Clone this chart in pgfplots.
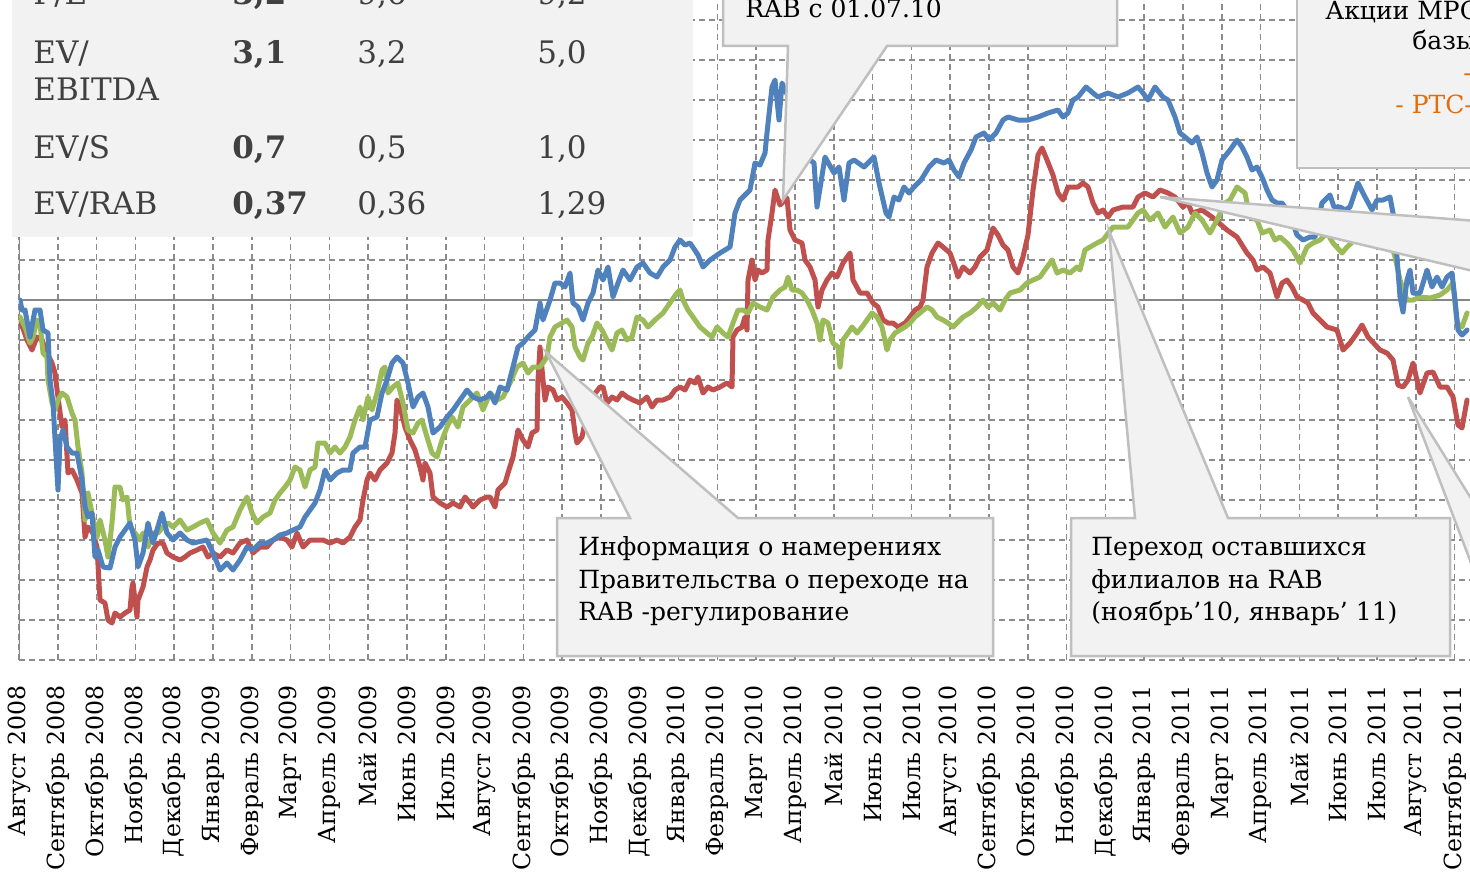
\documentclass[border=0pt]{standalone}
\usepackage{fontspec}
\setmainfont{DejaVu Serif}
\usepackage{pgfplots}
\pgfplotsset{compat=1.18}

\definecolor{sblue}{HTML}{4F81BD}
\definecolor{sred}{HTML}{C0504D}
\definecolor{sgreen}{HTML}{9BBB59}
\definecolor{gridgray}{HTML}{8C8C8C}
\definecolor{axisgray}{HTML}{868686}
\definecolor{boxfill}{HTML}{F2F2F2}
\definecolor{boxline}{HTML}{BFBFBF}
\definecolor{tabtext}{HTML}{404040}
\definecolor{rtsorange}{HTML}{E46C0A}

\tikzset{
  callout/.style={fill=boxfill, draw=boxline, line width=1.25pt},
  series/.style={mark=none, line width=2.5pt, line join=round, line cap=round},
}

\begin{document}
\begin{tikzpicture}
\begin{scope}
\clip (0pt,0pt) rectangle (735pt,-436pt);
\begin{axis}[
  at={(9.5pt,-330pt)}, anchor=south west,
  scale only axis, width=725.5pt, height=330pt,
  xmin=0, xmax=37.397, ymin=10, ymax=175,
  axis line style={draw=none}, tick style={draw=none},
  xtick={0,...,37},
  xticklabels={Август 2008,Сентябрь 2008,Октябрь 2008,Ноябрь 2008,Декабрь 2008,
    Январь 2009,Февраль 2009,Март 2009,Апрель 2009,Май 2009,Июнь 2009,Июль 2009,
    Август 2009,Сентябрь 2009,Октябрь 2009,Ноябрь 2009,Декабрь 2009,
    Январь 2010,Февраль 2010,Март 2010,Апрель 2010,Май 2010,Июнь 2010,Июль 2010,
    Август 2010,Сентябрь 2010,Октябрь 2010,Ноябрь 2010,Декабрь 2010,
    Январь 2011,Февраль 2011,Март 2011,Апрель 2011,Май 2011,Июнь 2011,Июль 2011,
    Август 2011,Сентябрь 2011},
  xticklabel style={rotate=90, anchor=east, inner sep=0pt,
    font=\fontsize{11.8}{14}\selectfont},
  xticklabel shift=12.5pt,
  ytick={10,20,...,170}, yticklabels={},
  grid=major,
  major grid style={draw=gridgray, line width=0.75pt, dash pattern=on 3pt off 2pt},
]
\draw[axisgray, line width=1pt] (axis cs:0,100) -- (axis cs:37.397,100);
\draw[axisgray, line width=1pt] (axis cs:0,10) -- (axis cs:0,175);

% red series
\addplot[series, sred] coordinates {
(0.026,95)(0.206,90)(0.335,87.5)(0.464,90.75)(0.593,90)(0.722,86.75)(0.851,84.25)(0.928,81.75)(1.005,75.75)(1.108,68.25)(1.186,70)(1.263,56.75)(1.366,57.5)(1.495,55)(1.624,51.75)(1.701,40.75)(1.778,43.25)(1.907,41.75)(2.010,38.25)(2.088,25)(2.216,24.25)(2.294,20)(2.397,19.25)(2.474,21.75)(2.603,20.75)(2.732,21.75)(2.861,22.5)(2.912,28.25)(2.938,29.25)(3.041,20.75)(3.067,25)(3.196,28.25)(3.299,33.25)(3.376,35)(3.454,37.5)(3.582,39.25)(3.711,39.25)(3.814,36.75)(3.969,35.75)(4.149,35)(4.278,35.75)(4.407,36.75)(4.588,37.5)(4.742,38.25)(4.871,35.75)(5.000,36.75)(5.180,35.75)(5.361,37.5)(5.515,36.75)(5.696,39.25)(5.876,40)(6.031,36.75)(6.211,38.25)(6.392,38.25)(6.546,40)(6.727,40.75)(6.907,40)(7.036,38.25)(7.165,41.75)(7.320,38.25)(7.500,40)(7.680,40)(7.835,40)(8.015,39.25)(8.196,40)(8.351,39.25)(8.531,40.75)(8.660,43.25)(8.789,45)(8.866,50)(8.969,55)(9.046,56.75)(9.175,55)(9.304,57.5)(9.485,59.25)(9.613,61.75)(9.691,66.75)(9.742,75)(9.820,73.25)(9.948,68.25)(10.077,65)(10.206,62.5)(10.335,58.25)(10.412,55)(10.464,59.25)(10.593,56.75)(10.670,50.75)(10.851,49.25)(11.031,48.25)(11.186,49.25)(11.366,48.25)(11.495,50.75)(11.624,49.25)(11.701,48.25)(11.881,50)(12.062,50.75)(12.139,50.75)(12.268,48.25)(12.345,52.5)(12.526,54.25)(12.603,56.75)(12.732,60.75)(12.861,67.5)(12.990,65)(13.119,63.25)(13.222,66.75)(13.351,67.5)(13.376,80)(13.428,88.25)(13.505,80)(13.557,75)(13.634,78.25)(13.763,77.5)(13.866,75)(13.995,75.75)(14.124,74.25)(14.253,72.5)(14.330,66.75)(14.381,64.25)(14.510,65.75)(14.716,75)(14.974,78.25)(15.052,78.25)(15.155,74.25)(15.284,75.75)(15.412,75)(15.541,76.75)(15.670,75.75)(15.825,75)(16.005,74.25)(16.186,75.75)(16.314,73.25)(16.443,75)(16.598,75)(16.778,75.75)(16.907,77.5)(17.036,78.25)(17.165,77.5)(17.294,80)(17.423,79.25)(17.500,80.75)(17.629,76.75)(17.758,78.25)(17.887,77.5)(18.067,78.25)(18.247,79.25)(18.376,78.25)(18.402,90.75)(18.505,92.5)(18.634,93.25)(18.711,95.75)(18.763,92.5)(18.789,105)(18.892,110)(18.969,105)(19.046,107.5)(19.149,106.75)(19.278,107.5)(19.304,115)(19.407,121.75)(19.485,127.5)(19.613,123.75)(19.794,125.5)(19.871,117.5)(20.000,115)(20.180,114.25)(20.258,110)(20.387,108.25)(20.515,105)(20.593,98.25)(20.696,102.5)(20.825,105)(20.954,106.75)(21.082,105.75)(21.237,109.25)(21.418,111.75)(21.495,105)(21.675,101.75)(21.856,101.75)(22.010,99.25)(22.139,98.25)(22.268,95)(22.397,94.25)(22.526,94.25)(22.655,93.25)(22.835,94.25)(22.964,95.75)(23.093,97.5)(23.222,98.25)(23.299,100)(23.402,108.25)(23.531,111.75)(23.686,114.25)(23.814,113.25)(23.995,111.75)(24.124,108.25)(24.201,105.75)(24.330,108.25)(24.510,106.75)(24.639,108.25)(24.768,110.75)(24.948,112.5)(25.103,118)(25.232,116.25)(25.361,113.75)(25.490,112.5)(25.619,108.25)(25.747,106.75)(25.876,110.75)(26.005,116.25)(26.134,127.5)(26.263,136.25)(26.366,138)(26.495,135)(26.649,131.25)(26.778,126.75)(26.907,125)(27.036,128.25)(27.294,128.25)(27.423,129.25)(27.552,128.25)(27.680,124.25)(27.809,121.75)(27.938,122.5)(28.067,120.75)(28.196,122.5)(28.454,123.25)(28.711,123.25)(28.840,125.75)(29.021,126.75)(29.227,125.75)(29.407,127.5)(29.613,126.75)(29.794,125.75)(30.000,123.25)(30.129,124.25)(30.232,121.75)(30.490,122.5)(30.747,120.75)(31.134,117.5)(31.392,115.75)(31.649,111.75)(31.804,110)(31.907,107.5)(32.062,108.25)(32.242,106.75)(32.423,100.75)(32.552,104.25)(32.680,105)(32.809,103.25)(32.938,100.75)(33.093,100)(33.222,99.25)(33.351,96.75)(33.531,95)(33.711,93.25)(33.969,92.5)(34.124,87.5)(34.304,89.25)(34.485,91.75)(34.613,93.75)(34.768,90.75)(35.077,87.5)(35.258,86.75)(35.412,85)(35.541,78.75)(35.670,78.25)(35.799,80)(35.928,84.25)(36.108,76.75)(36.289,81.75)(36.443,82)(36.624,78.25)(36.804,78.25)(36.959,75.75)(37.088,68.75)(37.191,68)(37.320,75)
};

% green series
\addplot[series, sgreen] coordinates {
(0.026,95.75)(0.155,93.25)(0.284,89.25)(0.361,90.75)(0.464,95)(0.541,94.25)(0.619,86.75)(0.722,85.75)(0.747,80)(0.851,74.25)(0.928,72.5)(1.005,75)(1.108,76.75)(1.237,75.75)(1.366,71.75)(1.443,70)(1.521,63.25)(1.624,56.75)(1.701,45)(1.778,51.75)(1.881,46.75)(2.010,40.75)(2.088,45)(2.216,40)(2.294,35.75)(2.397,44.25)(2.474,53.25)(2.603,53.25)(2.680,50)(2.784,50.75)(2.861,43.25)(2.990,41.75)(3.119,40)(3.196,41.75)(3.325,38.25)(3.454,41.75)(3.582,41.75)(3.711,43.25)(3.840,44.25)(3.969,43.25)(4.149,45)(4.330,42.5)(4.485,43.25)(4.665,44.25)(4.845,45)(5.000,41.75)(5.180,39.25)(5.361,42.5)(5.515,43.25)(5.696,47.5)(5.876,50.75)(6.005,46.75)(6.134,44.25)(6.289,45.75)(6.469,46.75)(6.598,50)(6.727,51.75)(6.856,53.25)(6.985,55)(7.113,58.25)(7.242,57.5)(7.371,53.25)(7.500,57.5)(7.629,58.25)(7.706,64.25)(7.887,64.25)(8.015,61.75)(8.144,63.25)(8.273,61.75)(8.402,63.25)(8.531,65.75)(8.660,70)(8.789,73.25)(8.866,70)(8.995,75.75)(9.098,72.5)(9.227,76.75)(9.356,82.5)(9.433,83.25)(9.510,76.75)(9.639,78.25)(9.768,79.25)(9.897,74.25)(10.026,67.5)(10.155,66.75)(10.284,69.25)(10.387,70)(10.515,65.75)(10.644,61.75)(10.773,60.75)(10.902,65)(11.031,68.25)(11.160,70.75)(11.314,68.25)(11.443,73.25)(11.624,75)(11.804,76.75)(11.959,72.5)(12.139,76.75)(12.320,75)(12.474,75.75)(12.655,79.25)(12.835,83.25)(12.990,84.25)(13.119,81.75)(13.247,83.25)(13.428,83.25)(13.608,85.75)(13.686,90.75)(13.814,93.25)(13.995,94.25)(14.124,95)(14.253,93.25)(14.330,88.25)(14.459,85.75)(14.536,85)(14.665,89.25)(14.768,90.75)(14.897,94.25)(15.026,92.5)(15.155,90)(15.284,87.5)(15.412,91.75)(15.541,92.5)(15.670,90)(15.799,90.75)(15.928,95.75)(16.082,95)(16.211,93.25)(16.392,95)(16.598,96.75)(16.830,100)(16.959,101.75)(17.036,102.5)(17.113,100)(17.242,97.5)(17.371,95.75)(17.552,93.25)(17.732,91.75)(17.861,90.75)(17.990,93.25)(18.144,91.75)(18.273,90.75)(18.402,94.25)(18.531,97.5)(18.660,97.5)(18.789,96.75)(18.918,99.25)(19.098,98.25)(19.278,97.5)(19.433,100.75)(19.613,102.5)(19.742,103.25)(19.820,105.75)(19.923,102.5)(20.052,102.5)(20.180,101.75)(20.309,100)(20.438,97.5)(20.567,94.25)(20.644,90)(20.722,95)(20.851,94.25)(20.979,89.25)(21.108,88.25)(21.160,83.25)(21.237,90)(21.366,91.75)(21.469,93.25)(21.598,91.75)(21.727,93.25)(21.856,95)(21.985,96.75)(22.113,95.75)(22.242,93.25)(22.371,87.5)(22.448,90)(22.577,91.75)(22.706,92.5)(22.835,93.25)(22.964,94.25)(23.093,95.75)(23.222,96.75)(23.402,98.25)(23.531,97.5)(23.660,95.75)(23.814,95)(23.943,94.25)(24.072,93.25)(24.330,95.75)(24.510,96.75)(24.691,98.25)(24.845,100)(24.974,98.25)(25.103,99.25)(25.284,97.5)(25.412,100)(25.541,101.75)(25.799,102.5)(25.979,104.25)(26.134,105)(26.314,105.75)(26.495,108.25)(26.624,110)(26.753,106.75)(26.907,107.5)(27.088,106.75)(27.268,108.25)(27.345,107.5)(27.474,112.5)(27.603,113.25)(27.784,114.25)(27.938,115)(28.196,118.25)(28.582,118.25)(28.840,121.75)(28.969,122.5)(29.149,120)(29.356,121.75)(29.536,118.25)(29.742,120.75)(29.923,116.75)(30.129,118.25)(30.309,121.75)(30.490,120)(30.696,116.75)(30.876,120)(31.082,124.25)(31.211,125)(31.392,128.25)(31.598,126.75)(31.727,120.75)(31.907,120)(32.036,116.75)(32.242,117.5)(32.371,115)(32.500,115.75)(32.680,114.25)(32.835,112.5)(33.015,109.25)(33.196,113.25)(33.351,114.25)(33.531,115)(33.711,116.75)(33.866,114.25)(34.098,111.75)(34.227,113.25)(34.562,116.25)(34.948,117)(35.335,115)(35.464,110.75)(35.593,105)(35.773,100)(35.928,100)(36.108,100.75)(36.366,100.5)(36.624,101.25)(36.804,102.5)(36.959,104.25)(37.062,94.25)(37.191,93.25)(37.320,96.75)
};

% blue series
\addplot[series, sblue] coordinates {
(0.026,100)(0.077,97.5)(0.155,97.5)(0.284,90.75)(0.412,97.5)(0.541,97.5)(0.619,92.5)(0.747,91.75)(0.799,80)(0.876,74.25)(0.979,56.75)(1.005,52.5)(1.057,65)(1.134,67.5)(1.237,63.25)(1.366,61.75)(1.495,61.75)(1.624,55)(1.701,48.25)(1.778,45.75)(1.881,46.75)(1.959,35.75)(2.036,37.5)(2.165,33.25)(2.345,33)(2.474,38.25)(2.603,40.75)(2.732,42.5)(2.861,44.25)(2.990,40)(3.067,33.25)(3.196,36.75)(3.325,44.25)(3.454,39.25)(3.686,46.75)(3.814,41.75)(3.969,40)(4.149,41.75)(4.330,40)(4.485,39.25)(4.845,40)(5.000,36.75)(5.180,32.5)(5.361,34.25)(5.515,32.5)(5.696,35)(5.876,38.25)(6.031,37.5)(6.211,39.25)(6.392,39.25)(6.546,40)(6.727,41.25)(6.907,41.75)(7.062,42.5)(7.242,43.25)(7.371,45.75)(7.500,47.5)(7.629,49.25)(7.758,52.5)(7.887,57.5)(8.015,55)(8.196,56.75)(8.351,57.5)(8.531,57.5)(8.608,61.75)(8.789,63.25)(8.918,63.25)(9.046,70)(9.227,70.75)(9.356,76.75)(9.485,80)(9.613,84.25)(9.742,85.75)(9.897,84.25)(10.026,79.25)(10.155,73.25)(10.284,75.75)(10.412,76.75)(10.541,73.25)(10.670,66.75)(10.851,68.25)(11.031,70.75)(11.186,72.5)(11.366,75)(11.546,77.5)(11.701,75.75)(11.881,75)(12.062,75.75)(12.139,76.75)(12.268,74.25)(12.397,78.25)(12.577,77.5)(12.732,83.25)(12.861,88.25)(12.990,89.25)(13.119,90.75)(13.299,92.5)(13.428,99.25)(13.505,95)(13.686,100)(13.814,104.25)(13.943,104.25)(14.072,103.25)(14.201,106.75)(14.278,99.25)(14.407,98.25)(14.536,95)(14.665,99.25)(14.794,101.75)(14.923,107.5)(15.052,105)(15.180,108.25)(15.309,100.75)(15.438,104.25)(15.567,107.5)(15.747,105)(15.928,108.25)(16.082,109.25)(16.263,106.75)(16.443,105.75)(16.598,108.25)(16.778,110)(16.907,113.25)(17.036,115)(17.165,113.75)(17.294,114.25)(17.500,111.25)(17.629,108.25)(17.809,110)(18.067,111.75)(18.325,113.25)(18.454,121.75)(18.582,125)(18.840,127.5)(18.969,134.25)(19.098,133.75)(19.227,136.75)(19.278,141.75)(19.407,153.25)(19.485,155)(19.588,145)(19.665,154.25)(19.742,152.5)(19.871,150)(20.052,142.5)(20.258,137.5)(20.387,135)(20.490,134.25)(20.567,123.25)(20.773,135.75)(21.005,131.75)(21.134,133.25)(21.263,125)(21.392,134.25)(21.521,135)(21.778,133.25)(22.036,135.75)(22.165,129.25)(22.345,121.75)(22.423,120.75)(22.552,125.75)(22.680,125)(22.809,128.25)(22.938,126.75)(23.067,128.25)(23.247,130)(23.454,133.25)(23.634,135)(23.840,134.25)(23.969,135)(24.098,132.5)(24.227,130.75)(24.356,134.25)(24.536,137.5)(24.665,140.75)(24.871,141.75)(25.000,140)(25.180,141.75)(25.361,145)(25.490,145.75)(25.747,145)(26.005,145)(26.263,145.75)(26.521,146.75)(26.778,147.5)(26.907,145.75)(27.036,146.75)(27.165,150)(27.294,150.75)(27.500,153.25)(27.680,151.75)(27.809,150.75)(28.067,151.75)(28.325,150.75)(28.582,151.75)(28.840,153.25)(28.969,151.75)(29.098,150)(29.278,153.25)(29.485,150.75)(29.613,150)(29.794,145.75)(29.923,141.75)(30.052,140.75)(30.232,139.25)(30.361,140.75)(30.490,136.75)(30.619,131.75)(30.747,128.25)(30.876,130)(31.005,135)(31.211,137.5)(31.392,140)(31.521,138.25)(31.649,135.75)(31.778,132.5)(31.907,133.25)(32.036,130.75)(32.165,127.5)(32.294,125)(32.423,124.25)(32.552,124.25)(32.758,121.25)(32.938,116.25)(33.093,115)(33.273,115.75)(33.402,115.75)(33.582,124.25)(33.789,126.25)(33.892,123.25)(34.046,123.25)(34.175,122.5)(34.304,123.25)(34.510,129.25)(34.691,125.75)(34.871,122.5)(35.000,125)(35.155,125)(35.335,125.75)(35.412,121.75)(35.515,110.75)(35.593,100.75)(35.670,97)(35.773,105)(35.851,107.5)(35.928,101.75)(36.108,101.75)(36.289,107.5)(36.418,103.25)(36.546,105.75)(36.675,103.25)(36.804,105.75)(36.933,106.75)(37.010,100)(37.088,92.5)(37.191,91.25)(37.320,92.5)
};
\end{axis}

% overlays, in pixel units of the reference (y downwards)
\begin{scope}[x=0.5pt, y=-0.5pt]
% valuation table
\fill[boxfill] (12,-20) rectangle (693,237);
\begin{scope}[every node/.style={anchor=base west, inner sep=0pt, text=tabtext,
    font=\fontsize{15.5}{18}\selectfont}]
  \node at (33,5) {P/E};
  \node at (232,5) {\bfseries 3,2};
  \node at (357,5) {9,6};
  \node at (537,5) {9,2};
  \node at (33,64) {EV/};
  \node at (33,100) {EBITDA};
  \node at (232,64) {\bfseries 3,1};
  \node at (357,64) {3,2};
  \node at (537,64) {5,0};
  \node at (33,158) {EV/S};
  \node at (232,158) {\bfseries 0,7};
  \node at (357,158) {0,5};
  \node at (537,158) {1,0};
  \node at (33,214) {EV/RAB};
  \node at (232,214) {\bfseries 0,37};
  \node at (357,214) {0,36};
  \node at (537,214) {1,29};
\end{scope}

% callouts
\filldraw[callout] (723,-20) -- (723,46) -- (788,46) -- (783,200) -- (887,46)
  -- (1117,46) -- (1117,-20) -- cycle;
\filldraw[callout] (1297,-20) -- (1297,168) -- (1490,168) -- (1490,-20) -- cycle;
\filldraw[callout] (1160,197) -- (1490,222) -- (1490,275) -- cycle;
\filldraw[callout] (1408,397) -- (1490,529) -- (1490,613) -- cycle;
\filldraw[callout] (557,518) -- (630,518) -- (546,352) -- (738,518) -- (993,518)
  -- (993,656) -- (557,656) -- cycle;
\filldraw[callout] (1071,518) -- (1135,518) -- (1109,231) -- (1228,518) -- (1450,518)
  -- (1450,656) -- (1071,656) -- cycle;

\begin{scope}[every node/.style={anchor=base west, inner sep=0pt, text=black,
    font=\fontsize{12.5}{16}\selectfont}]
  \node at (745,18) {RAB с 01.07.10};
  \node at (1325,20) {Акции МРСК};
  \node at (1412,50) {базы};
  \node[text=rtsorange] at (1463,82) {-};
  \node[text=rtsorange] at (1395,113) {- РТС-};
  \node at (578,555) {Информация о намерениях};
  \node at (578,588) {Правительства о переходе на};
  \node at (578,620) {RAB -регулирование};
  \node at (1091,555) {Переход оставшихся};
  \node at (1091,588) {филиалов на RAB};
  \node at (1091,620) {(ноябрь’10, январь’ 11)};
\end{scope}
\end{scope}
\end{scope}
\pgfresetboundingbox
\useasboundingbox (0pt,0pt) rectangle (735pt,-436pt);
\end{tikzpicture}
\end{document}
